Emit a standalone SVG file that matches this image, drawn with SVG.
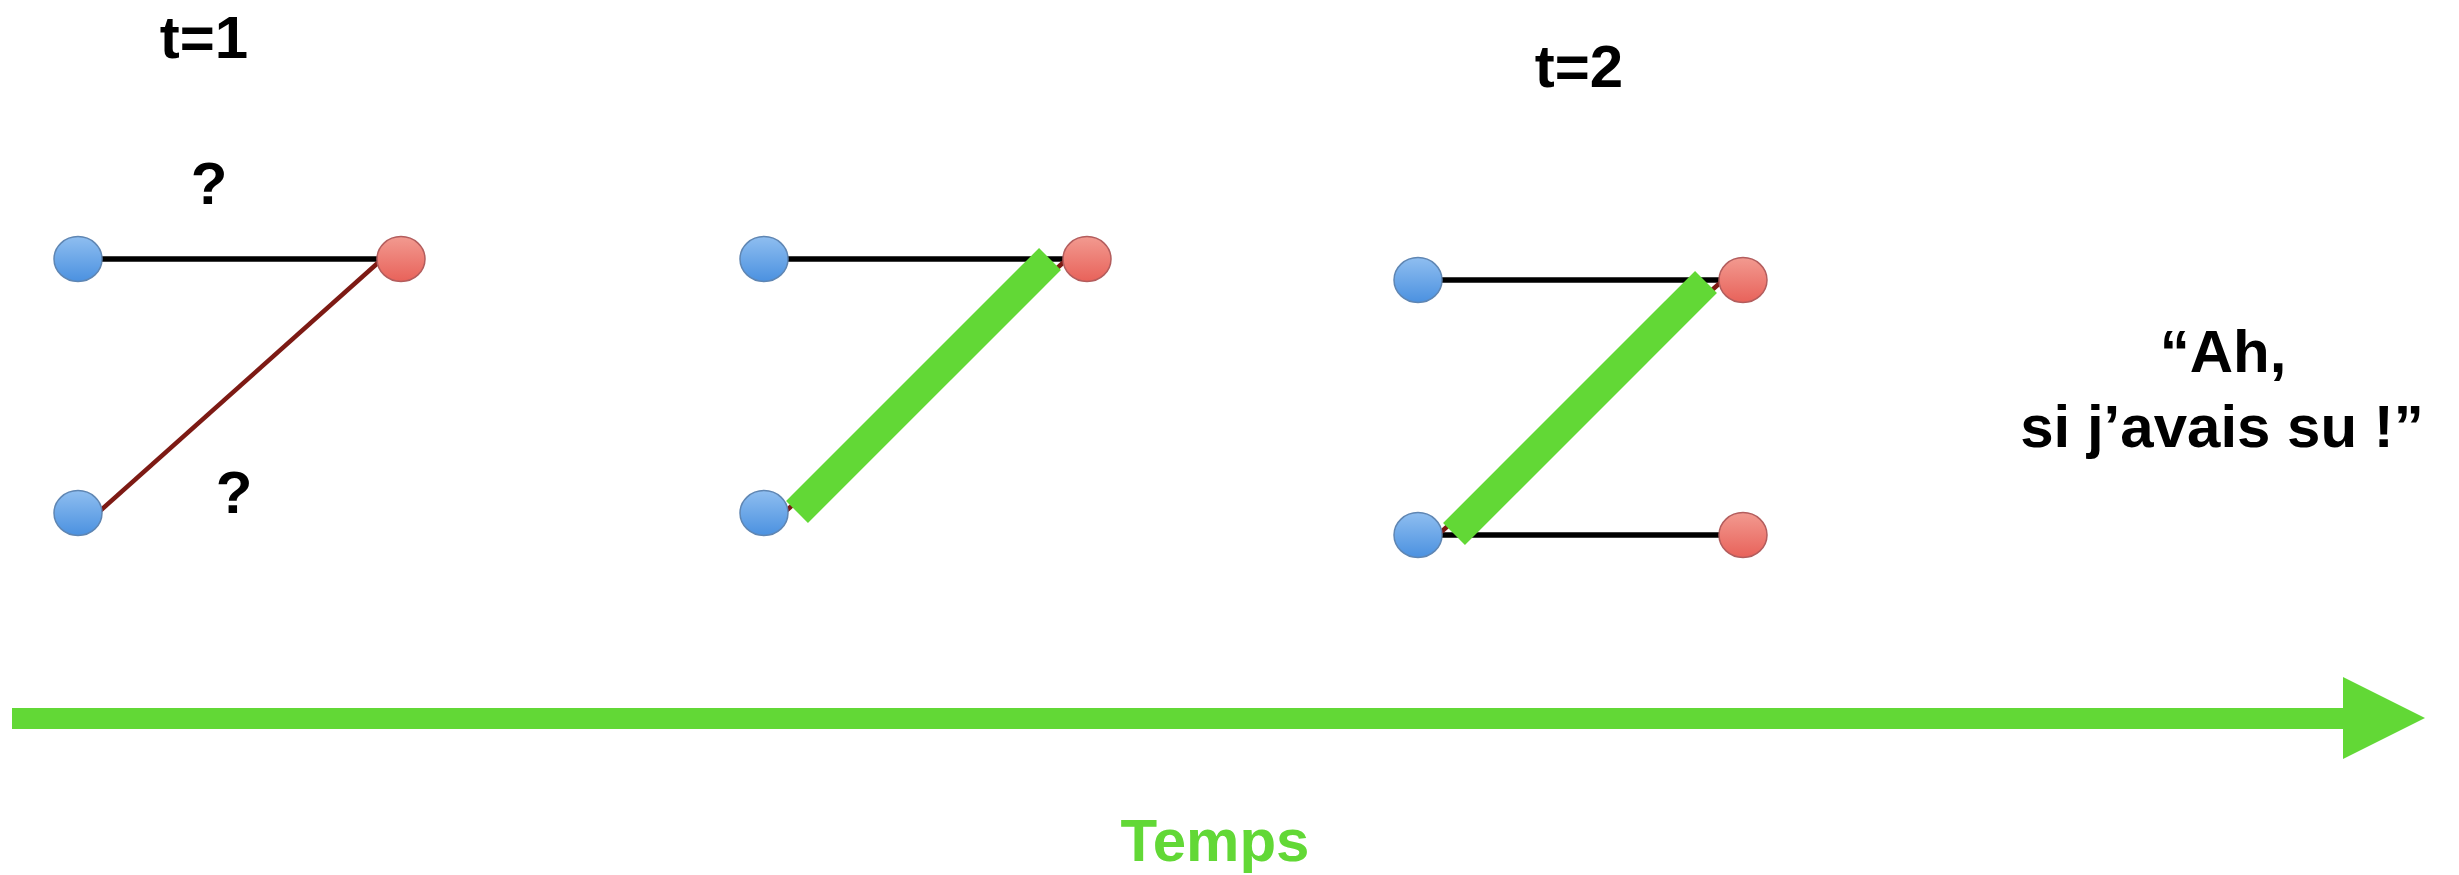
<svg xmlns="http://www.w3.org/2000/svg" width="2459" height="875" viewBox="0 0 2459 875">
  <style>
    .lbl { font-family: "Liberation Sans", Arial, Helvetica, sans-serif; font-weight: bold; fill: #000; }
    .green { fill: #62D836; }
    .blue { fill: url(#gBlue); stroke: #5f86b3; stroke-width: 1.5; }
    .red { fill: url(#gRed); stroke: #b35d5d; stroke-width: 1.5; }
    .edge { stroke: #000; stroke-width: 5.5; fill: none; }
    .edge-red { stroke: #7d1a14; stroke-width: 4.5; fill: none; }
    .hl { stroke: #62D836; stroke-width: 31; stroke-linecap: butt; fill: none; }
  </style>
  <defs>
    <linearGradient id="gBlue" x1="0" y1="0" x2="0" y2="1">
      <stop offset="0" stop-color="#8fbef0"/>
      <stop offset="1" stop-color="#4b91e0"/>
    </linearGradient>
    <linearGradient id="gRed" x1="0" y1="0" x2="0" y2="1">
      <stop offset="0" stop-color="#f29a90"/>
      <stop offset="1" stop-color="#e8625a"/>
    </linearGradient>
  </defs>
  <rect width="2459" height="875" fill="#fff"/>

  <g id="connectors">
    <!-- panel 1 -->
    <line class="edge" x1="100" y1="259" x2="380" y2="259"/>
    <line class="edge-red" x1="100" y1="511" x2="380" y2="261"/>
    <!-- panel 2 -->
    <line class="edge" x1="786" y1="259" x2="1065" y2="259"/>
    <line class="edge-red" x1="786" y1="511" x2="1065" y2="261"/>
    <!-- panel 3 -->
    <line class="edge" x1="1440" y1="280" x2="1721" y2="280"/>
    <line class="edge" x1="1440" y1="535" x2="1721" y2="535"/>
    <line class="edge-red" x1="1440" y1="533" x2="1721" y2="282"/>
  </g>

  <g id="panel1">
    <g id="p1-b1"><ellipse class="blue" cx="78" cy="259" rx="24" ry="22.5"/></g>
    <g id="p1-r1"><ellipse class="red" cx="401" cy="259" rx="24" ry="22.5"/></g>
    <g id="p1-b2"><ellipse class="blue" cx="78" cy="513" rx="24" ry="22.5"/></g>
  </g>
  <g id="panel2">
    <g id="p2-b1"><ellipse class="blue" cx="764" cy="259" rx="24" ry="22.5"/></g>
    <g id="p2-r1"><ellipse class="red" cx="1087" cy="259" rx="24" ry="22.5"/></g>
    <g id="p2-b2"><ellipse class="blue" cx="764" cy="513" rx="24" ry="22.5"/></g>
  </g>
  <g id="panel3">
    <g id="p3-b1"><ellipse class="blue" cx="1418" cy="280" rx="24" ry="22.5"/></g>
    <g id="p3-r1"><ellipse class="red" cx="1743" cy="280" rx="24" ry="22.5"/></g>
    <g id="p3-b2"><ellipse class="blue" cx="1418" cy="535" rx="24" ry="22.5"/></g>
    <g id="p3-r2"><ellipse class="red" cx="1743" cy="535" rx="24" ry="22.5"/></g>
  </g>

  <g id="highlights">
    <line class="hl" x1="1050" y1="259" x2="797" y2="512"/>
    <line class="hl" x1="1706" y1="282" x2="1454" y2="534"/>
  </g>

  <g id="labels">
    <text class="lbl" x="204" y="58" font-size="60" text-anchor="middle">t=1</text>
    <text class="lbl" x="1579" y="87" font-size="60" text-anchor="middle">t=2</text>
    <text class="lbl" x="209" y="204" font-size="60" text-anchor="middle">?</text>
    <text class="lbl" x="234" y="513" font-size="60" text-anchor="middle">?</text>
    <text class="lbl" x="2223" y="372" font-size="60" text-anchor="middle">“Ah,</text>
    <text class="lbl" x="2222" y="447" font-size="60" text-anchor="middle">si j’avais su !”</text>
  </g>

  <g id="time-axis">
    <polygon class="green" points="12,708 2343,708 2343,677 2425,718 2343,759 2343,729 12,729"/>
    <text class="lbl green" x="1215" y="861" font-size="60" text-anchor="middle">Temps</text>
  </g>
</svg>
